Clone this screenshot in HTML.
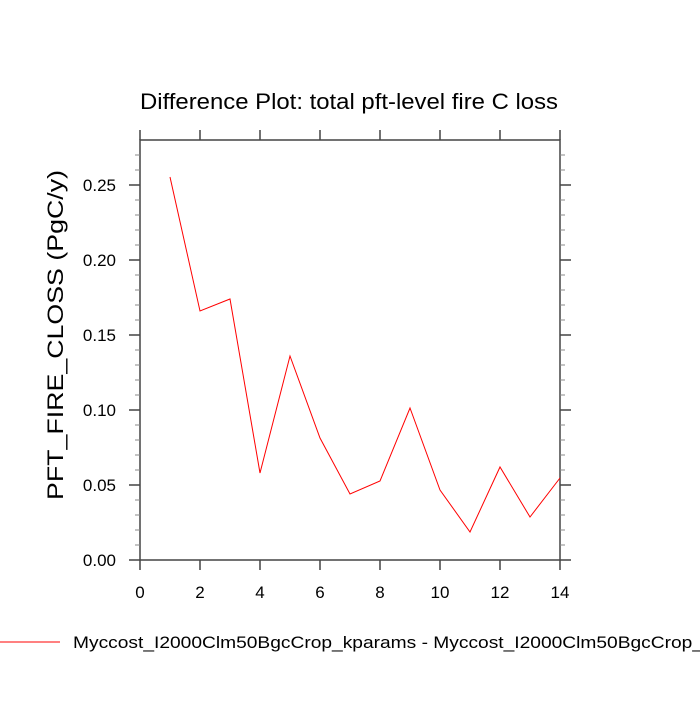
<!DOCTYPE html>
<html><head><style>body{margin:0;background:#fff}</style></head><body>
<svg width="700" height="700" xmlns="http://www.w3.org/2000/svg" font-family="Liberation Sans, sans-serif">
<rect width="700" height="700" fill="#fff"/>
<text x="140" y="109" font-size="22" textLength="418" lengthAdjust="spacingAndGlyphs">Difference Plot: total pft-level fire C loss</text>
<g stroke="#444" stroke-width="1.5" fill="none">
<rect x="140" y="140" width="420" height="420"/>
<path d="M140 560v10M200 560v10M260 560v10M320 560v10M380 560v10M440 560v10M500 560v10M560 560v10
M140 140v-10M200 140v-10M260 140v-10M320 140v-10M380 140v-10M440 140v-10M500 140v-10M560 140v-10
M140 560h-11M140 485h-11M140 410h-11M140 335h-11M140 260h-11M140 185h-11
M560 560h11M560 485h11M560 410h11M560 335h11M560 260h11M560 185h11"/>
</g>
<g stroke="#888" stroke-width="1" fill="none">
<path d="M140 545h-5M140 530h-5M140 515h-5M140 500h-5M140 470h-5M140 455h-5M140 440h-5M140 425h-5M140 395h-5M140 380h-5M140 365h-5M140 350h-5M140 320h-5M140 305h-5M140 290h-5M140 275h-5M140 245h-5M140 230h-5M140 215h-5M140 200h-5M140 170h-5M140 155h-5
M560 545h5M560 530h5M560 515h5M560 500h5M560 470h5M560 455h5M560 440h5M560 425h5M560 395h5M560 380h5M560 365h5M560 350h5M560 320h5M560 305h5M560 290h5M560 275h5M560 245h5M560 230h5M560 215h5M560 200h5M560 170h5M560 155h5"/>
</g>
<g font-size="17" text-anchor="end">
<text x="116" y="566">0.00</text>
<text x="116" y="491">0.05</text>
<text x="116" y="416">0.10</text>
<text x="116" y="341">0.15</text>
<text x="116" y="266">0.20</text>
<text x="116" y="191">0.25</text>
</g>
<g font-size="17" text-anchor="middle">
<text x="140" y="598">0</text><text x="200" y="598">2</text><text x="260" y="598">4</text><text x="320" y="598">6</text><text x="380" y="598">8</text><text x="440" y="598">10</text><text x="500" y="598">12</text><text x="560" y="598">14</text>
</g>
<text transform="translate(63,500) rotate(-90)" font-size="22" textLength="330" lengthAdjust="spacingAndGlyphs">PFT_FIRE_CLOSS  (PgC/y)</text>
<polyline fill="none" stroke="red" stroke-width="1" points="170,177 200,311 230,299 260,473 290,356 320,438 350,494 380,481 410,408 440,490 470,532 500,467 530,517 560,478"/>
<line x1="0" y1="642" x2="60" y2="642" stroke="red" stroke-width="1"/>
<text x="73" y="648" font-size="17" textLength="630" lengthAdjust="spacingAndGlyphs">Myccost_I2000Clm50BgcCrop_kparams - Myccost_I2000Clm50BgcCrop_</text>
</svg>
</body></html>
